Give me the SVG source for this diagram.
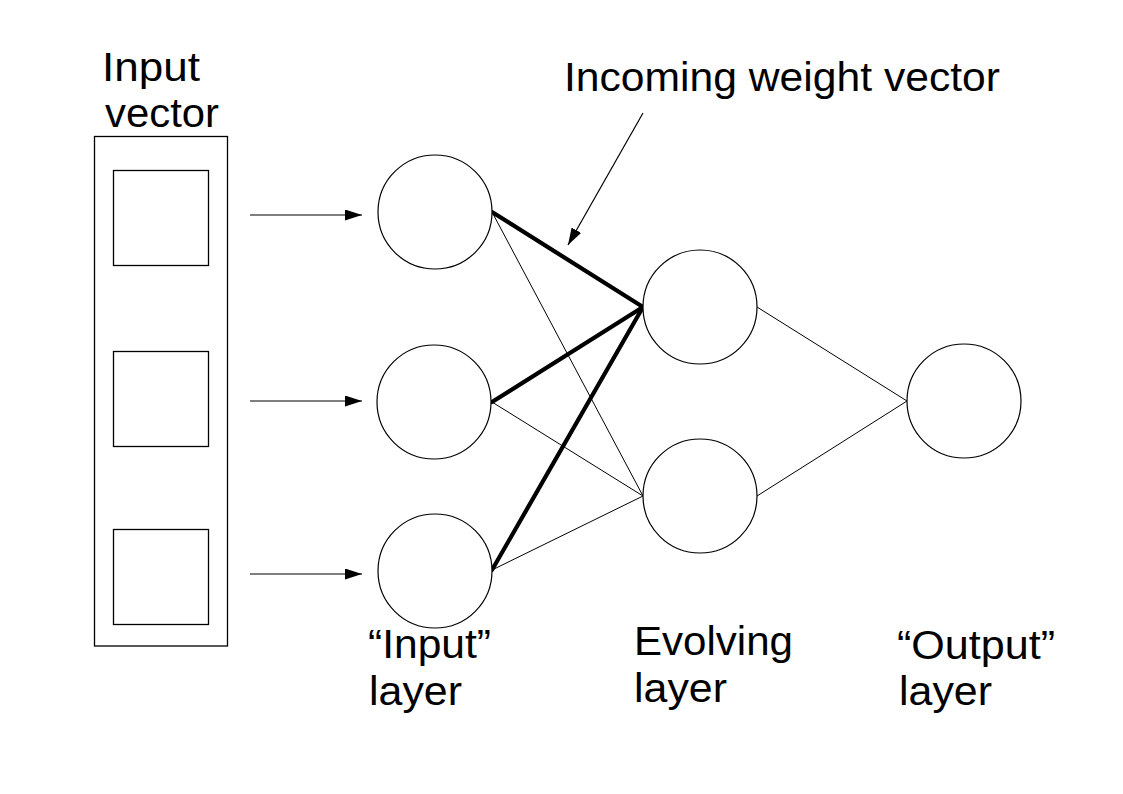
<svg xmlns="http://www.w3.org/2000/svg" width="1123" height="794" viewBox="0 0 1123 794">
<defs>
<marker id="ah" markerUnits="userSpaceOnUse" markerWidth="17" markerHeight="11" refX="17" refY="5.5" orient="auto">
<path d="M0,0 L17,5.5 L0,11 z" fill="#000"/>
</marker>
<style>
.lbl{font-family:"Liberation Sans",Arial,sans-serif;font-size:41px;fill:#000}
.node{fill:#fff;stroke:#000;stroke-width:1.2}
.box{fill:#fff;stroke:#000;stroke-width:1.3}
.thin{stroke:#000;stroke-width:1;fill:none}
.thick{stroke:#000;stroke-width:4.2;fill:none;stroke-linecap:round}
.arr{stroke:#000;stroke-width:1.2;fill:none;marker-end:url(#ah)}
</style>
</defs>
<rect width="1123" height="794" fill="#fff"/>
<g id="input-vector">
<rect class="box" x="94.5" y="136.5" width="133" height="509.5"/>
<rect class="box" x="113.5" y="170.5" width="95" height="95"/>
<rect class="box" x="113.5" y="351.5" width="95" height="95"/>
<rect class="box" x="113.5" y="529.5" width="95" height="95"/>
<text class="lbl" x="102" y="81" textLength="98" lengthAdjust="spacingAndGlyphs">Input</text>
<text class="lbl" x="105" y="127" textLength="114" lengthAdjust="spacingAndGlyphs">vector</text>
</g>
<g id="connectors">
<line class="arr" x1="250" y1="215" x2="362" y2="215"/>
<line class="arr" x1="250" y1="401" x2="362" y2="401"/>
<line class="arr" x1="250" y1="574" x2="362" y2="574"/>
<line class="thin" x1="492" y1="212" x2="643" y2="496"/>
<line class="thin" x1="492" y1="402" x2="643" y2="496"/>
<line class="thin" x1="492" y1="570" x2="643" y2="496"/>
<line class="thick" x1="492" y1="212" x2="643" y2="307"/>
<line class="thick" x1="492" y1="402" x2="643" y2="307"/>
<line class="thick" x1="492" y1="570" x2="643" y2="307"/>
<line class="thin" x1="757" y1="307" x2="907" y2="401"/>
<line class="thin" x1="757" y1="496" x2="907" y2="401"/>
<line class="arr" x1="643" y1="113" x2="568" y2="245"/>
</g>
<g id="in1"><circle class="node" cx="435" cy="212" r="57"/></g>
<g id="in2"><circle class="node" cx="434" cy="402" r="57"/></g>
<g id="in3"><circle class="node" cx="435" cy="571" r="57"/></g>
<g id="ev1"><circle class="node" cx="700" cy="307" r="57"/></g>
<g id="ev2"><circle class="node" cx="700" cy="496" r="57"/></g>
<g id="out1"><circle class="node" cx="964" cy="401" r="57"/></g>
<g id="labels">
<text class="lbl" x="564" y="91" textLength="436" lengthAdjust="spacingAndGlyphs">Incoming weight vector</text>
<text class="lbl" x="368" y="658" textLength="123" lengthAdjust="spacingAndGlyphs">“Input”</text>
<text class="lbl" x="369" y="705" textLength="93" lengthAdjust="spacingAndGlyphs">layer</text>
<text class="lbl" x="634" y="655" textLength="159" lengthAdjust="spacingAndGlyphs">Evolving</text>
<text class="lbl" x="634" y="702" textLength="93" lengthAdjust="spacingAndGlyphs">layer</text>
<text class="lbl" x="897" y="659" textLength="158" lengthAdjust="spacingAndGlyphs">“Output”</text>
<text class="lbl" x="899" y="705" textLength="93" lengthAdjust="spacingAndGlyphs">layer</text>
</g>
</svg>
